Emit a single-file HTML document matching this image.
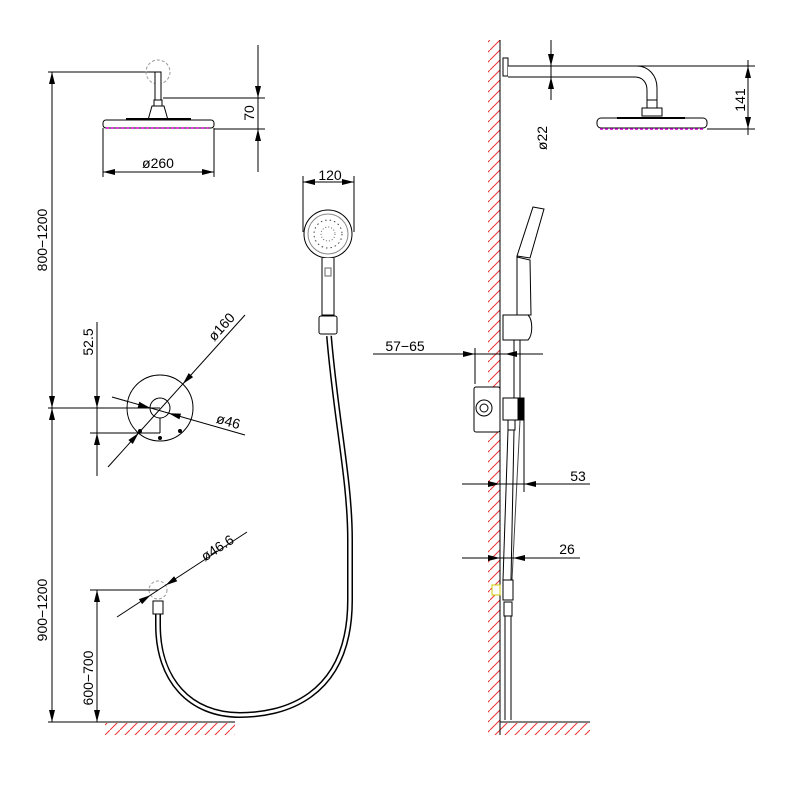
<!DOCTYPE html>
<html><head><meta charset="utf-8"><style>
html,body{margin:0;padding:0;background:#fff;}
svg{display:block;font-family:"Liberation Sans",sans-serif;}
</style></head><body>
<svg width="800" height="800" viewBox="0 0 800 800" xmlns="http://www.w3.org/2000/svg">
<defs>
<pattern id="hat" width="10" height="10" patternUnits="userSpaceOnUse"><path d="M0,10 L10,0" stroke="#e33" stroke-width="1"/></pattern>
</defs>
<g stroke="#000" stroke-width="1" fill="none">
<line x1="52" y1="72" x2="52" y2="722"/>
<line x1="48" y1="72" x2="158" y2="72"/>
<line x1="48" y1="408" x2="160" y2="408"/>
<line x1="48" y1="722" x2="110" y2="722"/>

<circle cx="158" cy="72" r="12" stroke="#999" stroke-dasharray="3,2"/>
<rect x="155" y="72" width="6" height="28" fill="#fff"/>
<path d="M154,100 h8 v6 h-8z M152,106 h12 l4,14 h-20z" fill="#fff"/>
<rect x="103" y="120" width="111" height="8" rx="3" fill="#fff"/>
<line x1="126" y1="119" x2="191" y2="119" stroke-width="2"/>
<line x1="106" y1="128" x2="211" y2="128" stroke="#c0c" stroke-dasharray="3,2" stroke-width="1.5"/>
<line x1="103" y1="128" x2="103" y2="177"/>
<line x1="214" y1="128" x2="214" y2="177"/>
<line x1="103" y1="172" x2="214" y2="172"/>
<line x1="163" y1="98" x2="265" y2="98"/>
<line x1="214" y1="129" x2="265" y2="129"/>
<line x1="258" y1="45" x2="258" y2="172"/>

<circle cx="160" cy="408" r="33"/>
<circle cx="160" cy="408" r="10"/>
<line x1="160" y1="418" x2="160" y2="433"/>
<line x1="90" y1="433" x2="160" y2="433"/>
<line x1="97" y1="322" x2="97" y2="476"/>
<line x1="108" y1="467" x2="245" y2="315"/>
<line x1="112" y1="397" x2="245" y2="435"/>
<circle cx="140" cy="431" r="1.5" fill="#000"/><circle cx="160" cy="438" r="1.5" fill="#000"/><circle cx="180" cy="431" r="1.5" fill="#000"/>

<circle cx="328" cy="234" r="24" fill="#fff"/>
<circle cx="328" cy="234" r="20" stroke="#888"/>
<circle cx="328" cy="234" r="7" stroke="#666" stroke-dasharray="1,2"/>
<circle cx="328" cy="234" r="14" stroke="#444" stroke-dasharray="1.5,3"/>
<path d="M322,258 L322,315 L334,315 L334,258" fill="#fff"/>
<rect x="325" y="268" width="6" height="8" stroke="#666"/>
<rect x="319" y="316" width="18" height="18" rx="2" fill="#fff"/>
<line x1="303" y1="176" x2="303" y2="232"/>
<line x1="354" y1="176" x2="354" y2="232"/>
<line x1="303" y1="182" x2="354" y2="182"/>
</g>
<path d="M329,336 C336,420 350,480 350,540 L350,600 C350,700 280,715 240,715 C190,715 158,680 158,625 L158,614" stroke="#000" stroke-width="6" fill="none"/>
<path d="M329,336 C336,420 350,480 350,540 L350,600 C350,700 280,715 240,715 C190,715 158,680 158,625 L158,614" stroke="#fff" stroke-width="3" fill="none"/>
<g stroke="#000" stroke-width="1" fill="none">
<rect x="153" y="601" width="10" height="13" fill="#fff"/>
<circle cx="158" cy="590" r="9" stroke="#999" stroke-dasharray="3,2"/>
<line x1="117" y1="617" x2="247" y2="532"/>
<line x1="90" y1="590" x2="158" y2="590"/>
<line x1="97" y1="590" x2="97" y2="722"/>
<line x1="100" y1="722" x2="235" y2="722"/>
</g>
<rect x="105" y="723" width="130" height="12" fill="url(#hat)"/>

<rect x="488" y="40" width="12" height="695" fill="url(#hat)"/>
<rect x="500" y="723" width="90" height="12" fill="url(#hat)"/>
<g stroke="#000" stroke-width="1" fill="none">
<line x1="500" y1="40" x2="500" y2="735"/>
<line x1="500" y1="722" x2="590" y2="722"/>
<rect x="503" y="58" width="5" height="18" fill="#fff"/>
<path d="M508,66 L637,66 C648,66 657,75 657,88 L657,100 L647,100 L647,90 C647,82 642,77 635,77 L508,77" fill="#fff"/>
<rect x="647" y="100" width="10" height="8" fill="#fff"/>
<path d="M642,108 h20 v8 h-20z" fill="#fff"/>
<rect x="597" y="118" width="110" height="10" rx="4" fill="#fff"/>
<line x1="617" y1="118" x2="685" y2="118" stroke-width="2"/>
<line x1="600" y1="129" x2="703" y2="129" stroke="#c0c" stroke-dasharray="3,2" stroke-width="1.5"/>
<line x1="637" y1="66" x2="755" y2="66"/>
<line x1="707" y1="129" x2="755" y2="129"/>
<line x1="748" y1="60" x2="748" y2="135"/>
<line x1="551" y1="40" x2="551" y2="100"/>

<path d="M533,207 L544,209 L530,258 L517,256z" fill="#fff"/>
<path d="M517,257 L530,260 L531,315 L517,315z" fill="#fff"/>
<path d="M503,315 L528,315 C533,320 533,335 528,340 L503,340z" fill="#fff"/>
<line x1="520" y1="340" x2="520" y2="398"/>
<line x1="514" y1="340" x2="514" y2="398"/>
<rect x="474" y="387" width="26" height="45" rx="2" fill="#fff"/>
<circle cx="484" cy="408" r="8"/><circle cx="484" cy="408" r="4"/>
<rect x="503" y="398" width="16" height="22" fill="#fff"/>
<rect x="518" y="398" width="6" height="22" fill="#000"/>
<rect x="508" y="420" width="7" height="10" fill="#fff"/>
<line x1="508" y1="430" x2="503" y2="580"/>
<line x1="514" y1="430" x2="511" y2="580"/>
<line x1="520" y1="420" x2="512" y2="580" stroke="#444"/>
<rect x="503" y="580" width="10" height="20" fill="#fff"/>
<rect x="504" y="602" width="8" height="14" fill="#fff"/>
<line x1="505" y1="616" x2="505" y2="720"/><line x1="511" y1="616" x2="511" y2="720"/>
<rect x="492" y="585" width="8" height="10" stroke="#cc0" fill="#fff"/>
<line x1="373" y1="354" x2="543" y2="354"/>
<line x1="475" y1="348" x2="475" y2="384"/>
<line x1="462" y1="484" x2="590" y2="484"/>
<line x1="524" y1="420" x2="524" y2="492"/>
<line x1="462" y1="558" x2="580" y2="558"/>
</g>

<g fill="#000" stroke="none">
<polygon points="52,72 49,84 55,84"/>
<polygon points="52,408 49,396 55,396"/>
<polygon points="52,408 49,420 55,420"/>
<polygon points="52,722 49,710 55,710"/>
<polygon points="103,172 115,169 115,175"/>
<polygon points="214,172 202,169 202,175"/>
<polygon points="258,98 255,86 261,86"/>
<polygon points="258,129 255,141 261,141"/>
<polygon points="97,408 94,396 100,396"/>
<polygon points="97,433 94,445 100,445"/>
<polygon points="303,182 315,179 315,185"/>
<polygon points="354,182 342,179 342,185"/>
<polygon points="97,590 94,602 100,602"/>
<polygon points="97,722 94,710 100,710"/>
<polygon points="748,66 745,78 751,78"/>
<polygon points="748,129 745,117 751,117"/>
<polygon points="551,66 548,54 554,54"/>
<polygon points="551,77 548,89 554,89"/>
<polygon points="475,354 463,351 463,357"/>
<polygon points="505,354 517,351 517,357"/>
<polygon points="500,484 488,481 488,487"/>
<polygon points="524,484 536,481 536,487"/>
<polygon points="500,558 488,555 488,561"/>
<polygon points="513,558 525,555 525,561"/>
<polygon points="138.6,433 132.8,444 128.4,440"/>
<polygon points="182.8,384 193.1,377.1 188.7,373.1"/>
<polygon points="150,407.9 137.7,407.5 139.3,401.7"/>
<polygon points="168.7,413.2 179.4,419.4 181,413.6"/>
<polygon points="150.6,595.1 142.1,604.1 138.9,599.1"/>
<polygon points="165.6,585.2 177.3,581.2 174.1,576.2"/>
</g>

<g fill="#000" font-size="14">
<text x="47" y="240" text-anchor="middle" transform="rotate(-90 47 240)">800−1200</text>
<text x="47" y="610" text-anchor="middle" transform="rotate(-90 47 610)">900−1200</text>
<text x="158" y="168" text-anchor="middle">ø260</text>
<text x="254" y="113" text-anchor="middle" transform="rotate(-90 254 113)">70</text>
<text x="93" y="342" text-anchor="middle" transform="rotate(-90 93 342)">52.5</text>
<text x="225" y="330" text-anchor="middle" transform="rotate(-48 225 330)">ø160</text>
<text x="227" y="426" text-anchor="middle" transform="rotate(16 227 426)">ø46</text>
<text x="330" y="180" text-anchor="middle">120</text>
<text x="220" y="552" text-anchor="middle" transform="rotate(-33 220 552)">ø46.6</text>
<text x="93" y="678" text-anchor="middle" transform="rotate(-90 93 678)">600−700</text>
<text x="745" y="100" text-anchor="middle" transform="rotate(-90 745 100)">141</text>
<text x="547" y="138" text-anchor="middle" transform="rotate(-90 547 138)">ø22</text>
<text x="405" y="351" text-anchor="middle">57−65</text>
<text x="578" y="481" text-anchor="middle">53</text>
<text x="567" y="554" text-anchor="middle">26</text>
</g>
</svg>
</body></html>
